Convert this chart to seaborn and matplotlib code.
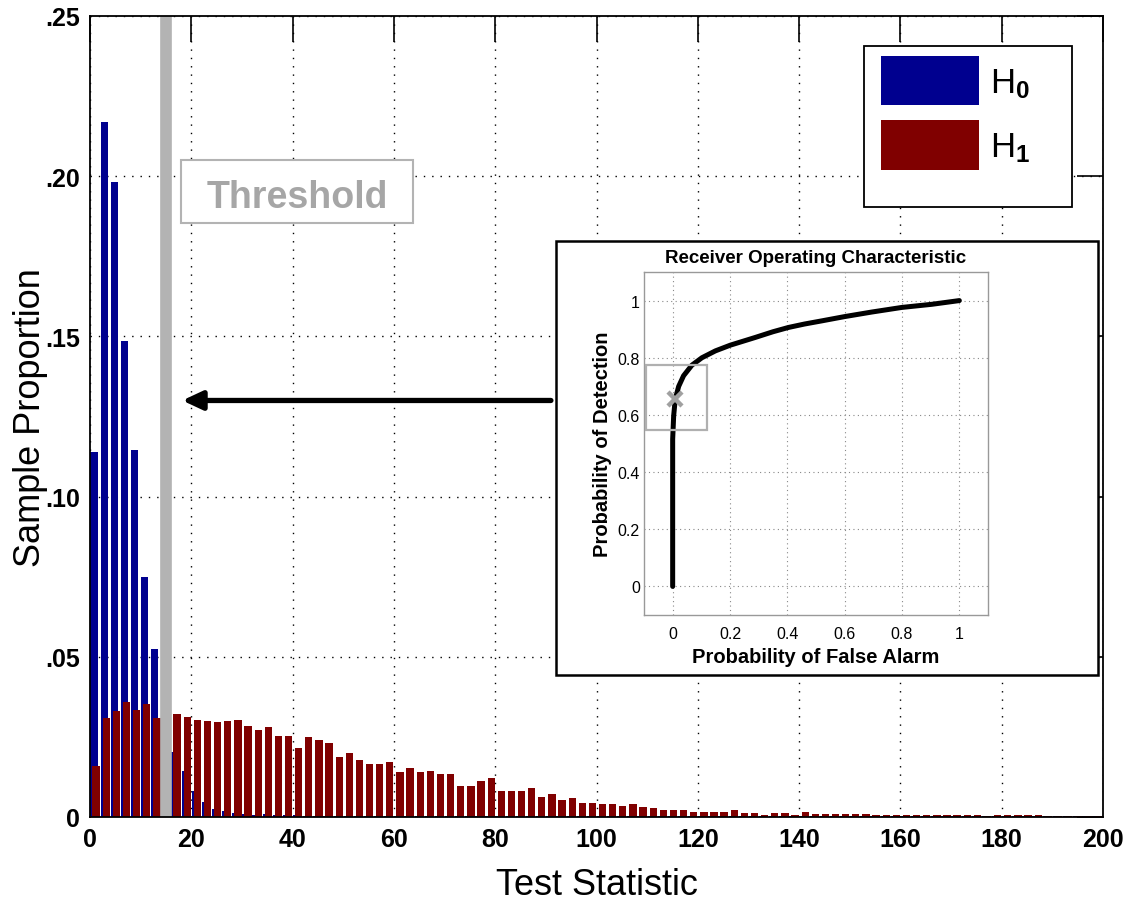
import pandas as pd
import seaborn as sns
import matplotlib.pyplot as plt
from matplotlib.patches import Patch, Rectangle

# histogram bins (centres) and sample proportions under each hypothesis
bin_centers = list(range(1, 200, 2))
h0_proportion = [
    0.1139, 0.2169, 0.1982, 0.1486, 0.1145, 0.0749, 0.0524, 0.0300, 0.0204, 0.0145,
    0.0081, 0.0048, 0.0025, 0.0019, 0.0012, 0.0010, 0.0006, 0.0010, 0.0006, 0.0005,
    0.0005, 0.0004, 0.0004, 0.0004, 0.0003, 0.0003, 0.0003, 0.0003, 0.0003, 0.0003,
    0.0003, 0.0003, 0.0003, 0.0003, 0.0003, 0.0003, 0.0003, 0.0003, 0.0003, 0.0003,
    0.0003, 0.0003, 0.0003, 0.0003, 0.0003, 0.0003, 0.0003, 0.0003, 0.0003, 0.0003,
    0.0002, 0.0002, 0.0002, 0.0002, 0.0002, 0.0002, 0.0002, 0.0002, 0.0002, 0.0002,
    0.0002, 0.0002, 0.0002, 0.0002, 0.0002, 0.0002, 0.0002, 0.0002, 0.0002, 0.0002,
    0.0002, 0.0002, 0.0002, 0.0002, 0.0002, 0.0002, 0.0002, 0.0002, 0.0002, 0.0002,
    0.0002, 0.0002, 0.0002, 0.0002, 0.0002, 0.0002, 0.0002, 0.0002, 0.0002, 0.0002,
    0.0002, 0.0002, 0.0002, 0.0002, 0.0002, 0.0002, 0.0002, 0.0002, 0.0002, 0.0002,
]
h1_proportion = [
    0.0160, 0.0308, 0.0330, 0.0358, 0.0335, 0.0353, 0.0308, 0.0320, 0.0321, 0.0312,
    0.0304, 0.0300, 0.0296, 0.0300, 0.0304, 0.0285, 0.0272, 0.0282, 0.0254, 0.0254,
    0.0214, 0.0250, 0.0241, 0.0232, 0.0187, 0.0201, 0.0178, 0.0165, 0.0165, 0.0171,
    0.0139, 0.0152, 0.0139, 0.0144, 0.0134, 0.0134, 0.0098, 0.0098, 0.0111, 0.0121,
    0.0081, 0.0081, 0.0081, 0.0090, 0.0062, 0.0072, 0.0054, 0.0058, 0.0045, 0.0045,
    0.0040, 0.0040, 0.0035, 0.0040, 0.0030, 0.0027, 0.0023, 0.0022, 0.0022, 0.0017,
    0.0017, 0.0017, 0.0017, 0.0022, 0.0012, 0.0012, 0.0007, 0.0012, 0.0012, 0.0007,
    0.0017, 0.0008, 0.0008, 0.0008, 0.0008, 0.0008, 0.0008, 0.0007, 0.0007, 0.0005,
    0.0007, 0.0005, 0.0006, 0.0007, 0.0005, 0.0006, 0.0005, 0.0006, 0.0004, 0.0005,
    0.0007, 0.0006, 0.0006, 0.0006, 0.0004, 0.0004, 0.0004, 0.0004, 0.0004, 0.0004,
]
threshold = 15
arrow_y = 0.130

# ROC curve of the inset
roc_false_alarm = [0.0, 0.0, 0.0035, 0.009, 0.021, 0.038, 0.067, 0.102, 0.149,
                   0.201, 0.288, 0.35, 0.404, 0.46, 0.52, 0.60, 0.695, 0.799, 0.904, 1.0]
roc_detection = [0.0, 0.515, 0.597, 0.655, 0.70, 0.737, 0.774, 0.80, 0.824,
                 0.844, 0.871, 0.891, 0.906, 0.918, 0.929, 0.944, 0.960, 0.976, 0.987, 1.0]
operating_fa = 0.009
operating_pd = 0.655

x_ticks = list(range(0, 201, 20))
y_ticks = [0, 0.05, 0.10, 0.15, 0.20, 0.25]
y_tick_labels = ['0', '.05', '.10', '.15', '.20', '.25']
roc_ticks = [0, 0.2, 0.4, 0.6, 0.8, 1.0]
roc_tick_labels = ['0', '0.2', '0.4', '0.6', '0.8', '1']
legend_labels = [r'H$_{\mathbf{0}}$', r'H$_{\mathbf{1}}$']

blue = '#00008f'
red = '#800000'
gray = '#b3b3b3'

sns.set_style('white')
plt.rcParams['font.family'] = ['Liberation Sans', 'DejaVu Sans']
plt.rcParams['mathtext.fontset'] = 'custom'
plt.rcParams['mathtext.rm'] = 'Liberation Sans'
plt.rcParams['mathtext.bf'] = 'Liberation Sans:bold'
plt.rcParams['mathtext.default'] = 'regular'
for key in ['text.color', 'axes.labelcolor', 'xtick.color', 'ytick.color']:
    plt.rcParams[key] = 'black'

W, H = 1123, 904
fig = plt.figure(figsize=(W / 100, H / 100), dpi=100)
ax = fig.add_axes([90 / W, 86 / H, 1013 / W, 801 / H])

hist_df = pd.DataFrame({'center': bin_centers, 'h0': h0_proportion, 'h1': h1_proportion})
sns.barplot(x=hist_df['center'] - 0.2, y=hist_df['h0'], native_scale=True, width=0.72,
            color=blue, saturation=1, errorbar=None, linewidth=0, ax=ax)
sns.barplot(x=hist_df['center'] + 0.2, y=hist_df['h1'], native_scale=True, width=0.72,
            color=red, saturation=1, errorbar=None, linewidth=0, ax=ax)

ax.axvline(threshold, color=gray, lw=8.4, zorder=2)
ax.add_patch(Rectangle((18.0, 0.1854), 45.8, 0.0197, fc='white', ec=gray, lw=1.5, zorder=3))
ax.text(40.9, 0.1903, 'Threshold', ha='center', va='baseline', fontsize=27,
        fontweight='bold', color='#a6a6a6', zorder=4)

ax.annotate('', xy=(18.2, arrow_y), xytext=(91.0, arrow_y),
            arrowprops=dict(arrowstyle='-|>,head_length=0.6,head_width=0.28',
                            lw=3.8, color='black', shrinkA=0, shrinkB=0,
                            mutation_scale=20), zorder=4)

ax.set(xlim=(0, 200), ylim=(0, 0.25), xticks=x_ticks, yticks=y_ticks)
ax.set_yticklabels(y_tick_labels)
ax.set_xlabel('Test Statistic', fontsize=26, labelpad=12)
ax.set_ylabel('Sample Proportion', fontsize=26, labelpad=-2)
ax.tick_params(direction='in', top=True, right=True, length=18.5, width=1.2,
               labelsize=18, color='black', pad=7)
for lab in ax.get_xticklabels() + ax.get_yticklabels():
    lab.set_fontweight('bold')
ax.grid(True, color='black', lw=1, linestyle=(0, (1, 5)))
ax.set_axisbelow(True)
for s in ax.spines.values():
    s.set_color('black')
    s.set_linewidth(1.3)

# legend with a MATLAB-like square frame
ax.add_artist(Rectangle((864 / W, 1 - 208 / H), 208 / W, 161 / H, transform=fig.transFigure,
                        fc='white', ec='black', lw=1.3, zorder=4.5))
handles = [Patch(fc=blue, ec='none'), Patch(fc=red, ec='none')]
ax.legend(handles, legend_labels, loc='upper left', bbox_to_anchor=(881 / W, 1 - 57 / H),
          bbox_transform=fig.transFigure, frameon=False, fontsize=25, borderpad=0,
          borderaxespad=0, handlelength=2.81, handleheight=1.81, labelspacing=0.43,
          handletextpad=0.32)

# inset: ROC curve
fig.add_artist(Rectangle((556 / W, 1 - 676 / H), 542 / W, 434 / H, transform=fig.transFigure,
                         fc='white', ec='black', lw=1.8, zorder=1))
ins = fig.add_axes([644 / W, 1 - 616 / H, 344 / W, 343 / H])
ins.set_zorder(2)
sns.lineplot(x=roc_false_alarm, y=roc_detection, sort=False, estimator=None,
             color='black', lw=3.6, ax=ins)
ins.plot(operating_fa, operating_pd, marker='x', ms=10, mew=3.2, color='#a0a0a0', zorder=4)
ins.add_patch(Rectangle((-0.093, 0.548), 0.213, 0.228, fill=False, ec='#b0b0b0', lw=1.6, zorder=3))
ins.set(xlim=(-0.1, 1.1), ylim=(-0.1, 1.1), xticks=roc_ticks, yticks=roc_ticks)
ins.set_xticklabels(roc_tick_labels)
ins.set_yticklabels(roc_tick_labels)
ins.tick_params(length=0, labelsize=11.5)
ins.tick_params(axis='x', pad=8)
ins.tick_params(axis='y', pad=3)
ins.grid(True, color='#888888', lw=0.8, linestyle=(0, (1, 3)))
for s in ins.spines.values():
    s.set_color('#999999')
    s.set_linewidth(1)
ins.set_title('Receiver Operating Characteristic', fontsize=13.5, fontweight='bold', pad=7)
ins.set_xlabel('Probability of False Alarm', fontsize=14.5, fontweight='bold', labelpad=4)
ins.set_ylabel('Probability of Detection', fontsize=14.5, fontweight='bold', labelpad=4)

fig.savefig('out.png', dpi=100)
